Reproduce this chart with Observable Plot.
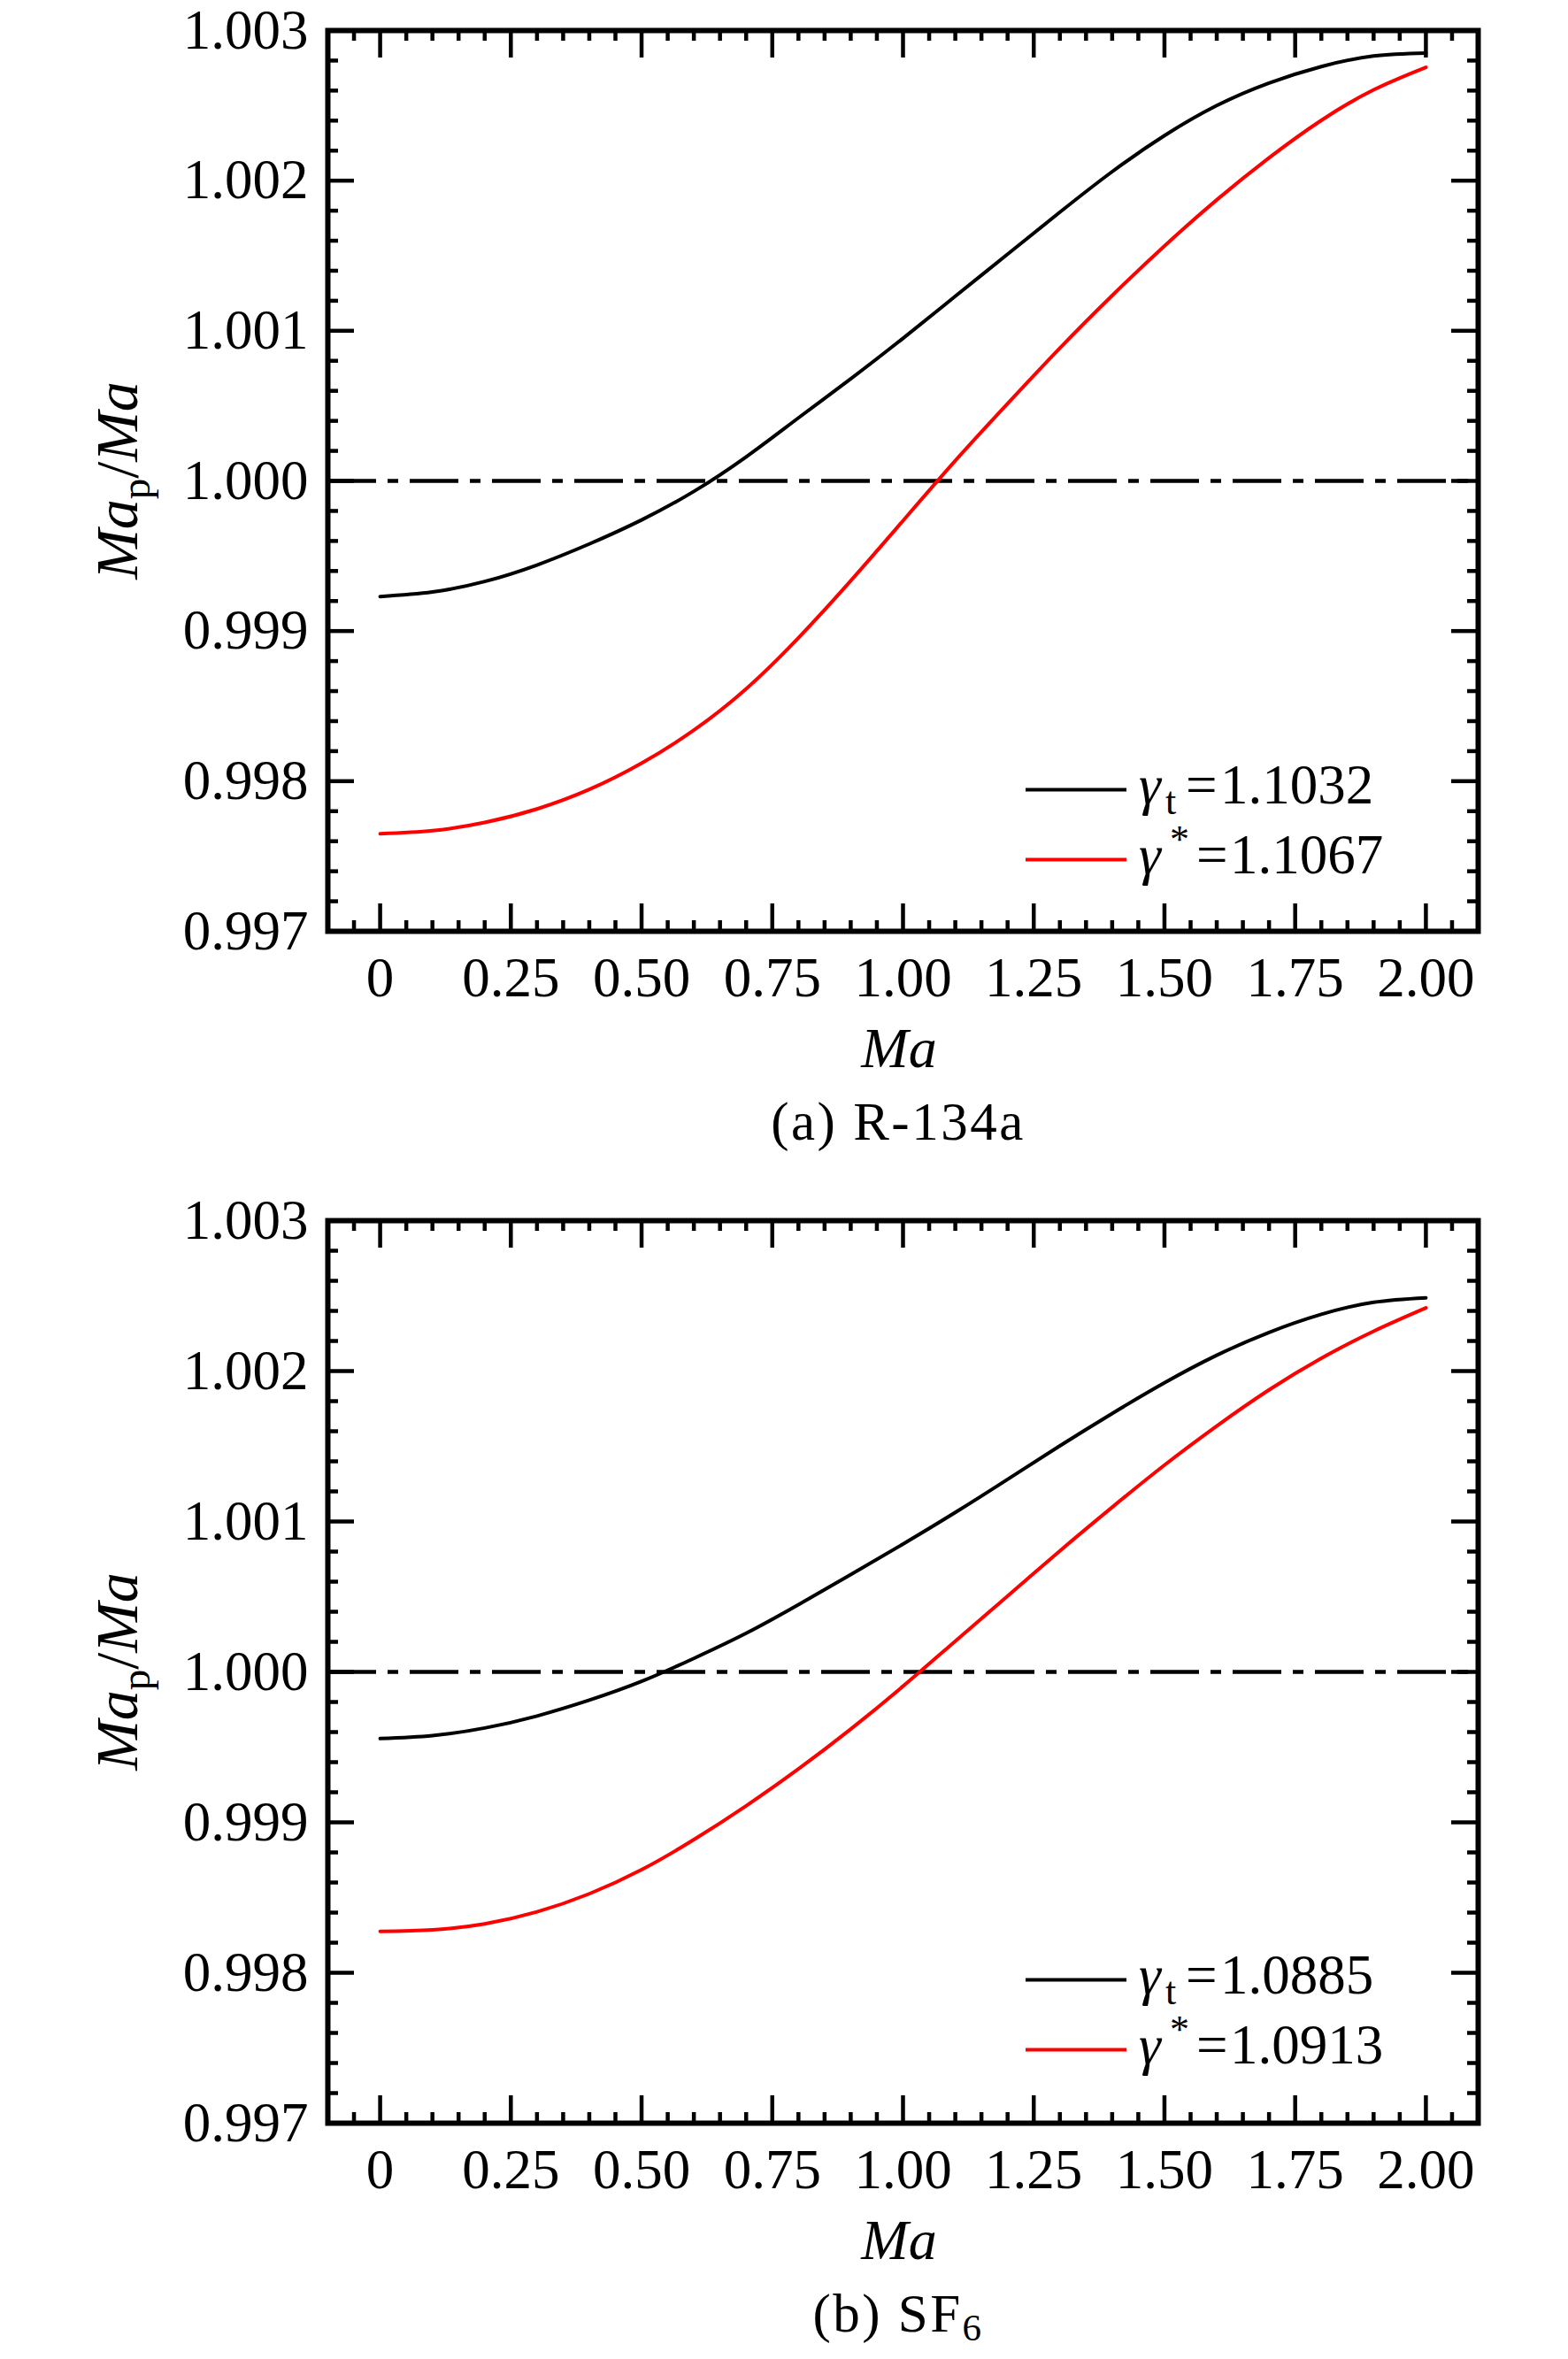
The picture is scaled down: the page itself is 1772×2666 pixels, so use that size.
<!DOCTYPE html>
<html>
<head>
<meta charset="utf-8">
<script src="https://cdn.jsdelivr.net/npm/d3@7"></script>
<script src="https://cdn.jsdelivr.net/npm/@observablehq/plot@0.6"></script>
<style>
html, body { margin: 0; padding: 0; background: #fff; }
body { width: 1772px; height: 2666px; overflow: hidden; }
svg { display: block; }
</style>
</head>
<body>
<div id="panelA"></div>
<div id="panelB"></div>
<script>
// ---------- data ----------
const ma = [0, 0.1, 0.2, 0.3, 0.4, 0.5, 0.6, 0.7, 0.8, 0.9, 1.0, 1.1, 1.2, 1.3, 1.4, 1.5, 1.6, 1.7, 1.8, 1.9, 2.0];

const r134aGammaT = [0.99923, 0.99926, 0.99933, 0.99944, 0.99958, 0.99974, 0.99993, 1.00016, 1.00042, 1.00068, 1.00095,
  1.00123, 1.00151, 1.00179, 1.00206, 1.00230, 1.00250, 1.00265, 1.00276, 1.00283, 1.00285];
const r134aGammaStar = [0.997650, 0.997670, 0.997725, 0.997815, 0.997945, 0.998120, 0.998340, 0.998615, 0.998955, 0.999335, 0.999735,
  1.000135, 1.000515, 1.000885, 1.001235, 1.001565, 1.001872, 1.002152, 1.002402, 1.002605, 1.002755];

const sf6GammaT = [0.999557, 0.999577, 0.999627, 0.999707, 0.999812, 0.999937, 1.000090, 1.000257, 1.000447, 1.000647, 1.000850,
  1.001060, 1.001280, 1.001503, 1.001718, 1.001922, 1.002105, 1.002257, 1.002377, 1.002457, 1.002487];
const sf6GammaStar = [0.998275, 0.998285, 0.998325, 0.998405, 0.998525, 0.998685, 0.998885, 0.999110, 0.999355, 0.999620, 0.999905,
  1.000205, 1.000505, 1.000805, 1.001095, 1.001375, 1.001635, 1.001875, 1.002085, 1.002265, 1.002420];

const referenceLine = [1.000];

const xTickValues = [0, 0.25, 0.5, 0.75, 1.0, 1.25, 1.5, 1.75, 2.0];
const xTickLabels = ["0", "0.25", "0.50", "0.75", "1.00", "1.25", "1.50", "1.75", "2.00"];
const yTickValues = [0.997, 0.998, 0.999, 1.000, 1.001, 1.002, 1.003];
const yTickLabels = ["0.997", "0.998", "0.999", "1.000", "1.001", "1.002", "1.003"];

const legendA = ["1.1032", "1.1067"];
const legendB = ["1.0885", "1.0913"];
const captionA = ["(a) R-134a", ""];
const captionB = ["(b) SF", "6"];

// minor ticks
const xMinor = d3.range(-1, 42).filter(i => i % 5 !== 0).map(i => +(i * 0.05).toFixed(4));
const yMinor = d3.range(0, 31).filter(i => i % 5 !== 0).map(i => +(0.997 + i * 0.0002).toFixed(5));

const FONT = "'Liberation Serif', 'Times New Roman', Times, serif";

function panel(target, {gammaT, gammaStar, legend, caption, height, marginTop, marginBottom}) {
  const W = 1772, ML = 370, MR = 102;
  const innerH = height - marginTop - marginBottom;
  const innerW = W - ML - MR;
  const blackRows = ma.map((m, i) => ({ma: m, v: gammaT[i]}));
  const redRows = ma.map((m, i) => ({ma: m, v: gammaStar[i]}));
  const tk = {stroke: "black", strokeWidth: 4.5};

  const plot = Plot.plot({
    width: W, height, marginTop, marginBottom, marginLeft: ML, marginRight: MR,
    style: {fontFamily: FONT, fontSize: "63px", color: "black", background: "white", overflow: "visible"},
    x: {domain: [-0.1, 2.1]},
    y: {domain: [0.997, 1.003]},
    marks: [
      Plot.ruleY(referenceLine, {stroke: "black", strokeWidth: 4.5, strokeDasharray: "55,13,12,13"}),
      Plot.line(blackRows, {x: "ma", y: "v", stroke: "black", strokeWidth: 4, curve: "natural"}),
      Plot.line(redRows, {x: "ma", y: "v", stroke: "#ff0000", strokeWidth: 4, curve: "natural"}),
      // inward ticks: bottom / top
      Plot.tickX(xTickValues, {x: d => d, insetTop: innerH - 31, ...tk}),
      Plot.tickX(xTickValues, {x: d => d, insetBottom: innerH - 31, ...tk}),
      Plot.tickX(xMinor, {x: d => d, insetTop: innerH - 12, ...tk}),
      Plot.tickX(xMinor, {x: d => d, insetBottom: innerH - 12, ...tk}),
      // inward ticks: left / right
      Plot.tickY(yTickValues, {y: d => d, insetRight: innerW - 30, ...tk}),
      Plot.tickY(yTickValues, {y: d => d, insetLeft: innerW - 30, ...tk}),
      Plot.tickY(yMinor, {y: d => d, insetRight: innerW - 12, ...tk}),
      Plot.tickY(yMinor, {y: d => d, insetLeft: innerW - 12, ...tk}),
      Plot.frame({stroke: "black", strokeWidth: 6}),
      Plot.axisX({ticks: xTickValues, tickFormat: d => xTickLabels[xTickValues.indexOf(d)],
        tickSize: 0, tickPadding: 29, fontSize: 63, label: null}),
      Plot.axisY({ticks: yTickValues, tickFormat: d => yTickLabels[yTickValues.indexOf(d)],
        tickSize: 0, tickPadding: 22, fontSize: 63, label: null})
    ]
  });

  const svg = d3.select(plot);
  const frameTop = marginTop, frameBottom = height - marginBottom;
  const cx = ML + innerW / 2, cy = marginTop + innerH / 2;
  const g = svg.append("g").attr("font-family", FONT).attr("fill", "black");

  // x label
  g.append("text").attr("x", cx - 4).attr("y", frameBottom + 154)
    .attr("text-anchor", "middle").attr("font-size", 64).attr("font-style", "italic").text("Ma");

  // y label
  const yl = g.append("text").attr("transform", `translate(155,${cy}) rotate(-90)`)
    .attr("text-anchor", "middle").attr("font-size", 68);
  yl.append("tspan").attr("font-style", "italic").text("Ma");
  yl.append("tspan").attr("font-size", 47).attr("dy", 14).text("p");
  yl.append("tspan").attr("dy", -14).text("/");
  yl.append("tspan").attr("font-style", "italic").text("Ma");

  // caption
  const cap = g.append("text").attr("x", cx - 5).attr("y", frameBottom + 236)
    .attr("text-anchor", "middle").attr("font-size", 61).attr("letter-spacing", 2.5);
  cap.append("tspan").text(caption[0]);
  if (caption[1]) cap.append("tspan").attr("font-size", 43).attr("dy", 10).text(caption[1]);

  // legend
  const rowLine = [frameTop + 858.5, frameTop + 937.5];
  const colors = ["black", "#ff0000"];
  rowLine.forEach((ly, i) => {
    g.append("line").attr("x1", 1159).attr("x2", 1273).attr("y1", ly).attr("y2", ly)
      .attr("stroke", colors[i]).attr("stroke-width", 4);
    const t = g.append("text").attr("x", 1287).attr("y", ly + 15.5)
      .attr("font-size", 63).attr("text-anchor", "start");
    t.append("tspan").attr("font-style", "italic").text("γ");
    if (i === 0) {
      t.append("tspan").attr("x", 1317).attr("dy", 12).attr("font-size", 44).text("t");
      t.append("tspan").attr("x", 1340).attr("dy", -12).text("=");
      t.append("tspan").attr("x", 1379).text(legend[0]);
    } else {
      t.append("tspan").attr("x", 1322).attr("dy", -24).attr("font-size", 44).text("*");
      t.append("tspan").attr("x", 1352).attr("dy", 24).text("=");
      t.append("tspan").attr("x", 1390).text(legend[1]);
    }
  });

  document.getElementById(target).appendChild(plot);
}

panel("panelA", {gammaT: r134aGammaT, gammaStar: r134aGammaStar, legend: legendA, caption: captionA,
  height: 1330, marginTop: 34, marginBottom: 278});
panel("panelB", {gammaT: sf6GammaT, gammaStar: sf6GammaStar, legend: legendB, caption: captionB,
  height: 1336, marginTop: 49, marginBottom: 267});
</script>
</body>
</html>
